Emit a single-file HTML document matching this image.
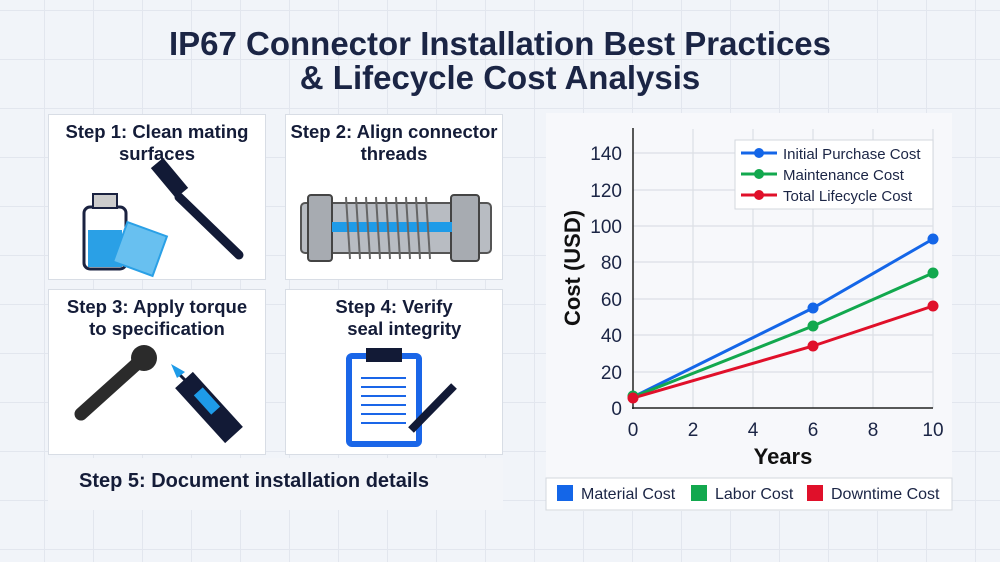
<!DOCTYPE html>
<html><head><meta charset="utf-8"><style>
body{margin:0;width:1000px;height:562px;overflow:hidden;font-family:"Liberation Sans",sans-serif;
background-color:#f1f4f9;
background-image:linear-gradient(#e2e6ee 1px,transparent 1px),linear-gradient(90deg,#e2e6ee 1px,transparent 1px);
background-size:49px 49px;background-position:-5px 10px;position:relative}
.t{position:absolute;left:0;width:1000px;text-align:center;font-weight:bold;font-size:33px;color:#1b2545;line-height:34px}
.p{position:absolute;background:#fff;border:1px solid #d8dde5;box-sizing:border-box}
.p .h{position:absolute;left:0;right:0;top:6px;text-align:center;font-weight:bold;font-size:18.5px;line-height:22px;color:#141c38}
</style></head><body>
<div class="t" style="top:27px">IP67 Connector Installation Best Practices</div>
<div class="t" style="top:61px">&amp; Lifecycle Cost Analysis</div>

<div class="p" style="left:48px;top:114px;width:218px;height:166px"><div class="h">Step 1: Clean mating<br>surfaces</div>
<svg width="218" height="166" style="position:absolute;left:0;top:0">
<rect x="35" y="90" width="0" height="0"/>
<rect x="35" y="92" width="42" height="62" rx="6" fill="#fff" stroke="#1a2240" stroke-width="3"/>
<rect x="44" y="79" width="24" height="14" fill="#ccc" stroke="#1a2240" stroke-width="2"/>
<rect x="39" y="115" width="34" height="37" fill="#2aa0e6"/>
<rect x="70" y="113" width="42" height="42" fill="#68c0f0" stroke="#2aa0e6" stroke-width="2" transform="rotate(20 91 134)"/>
<line x1="130" y1="82" x2="190" y2="140" stroke="#121a36" stroke-width="9" stroke-linecap="round"/>
<line x1="108" y1="48" x2="133" y2="78" stroke="#121a36" stroke-width="16"/>
</svg></div>

<div class="p" style="left:285px;top:114px;width:218px;height:166px"><div class="h">Step 2: Align connector<br>threads</div>
<svg width="218" height="166" style="position:absolute;left:0;top:0">
<rect x="15" y="88" width="190" height="50" rx="4" fill="#b8bcc2" stroke="#555" stroke-width="2"/>
<rect x="22" y="80" width="24" height="66" rx="3" fill="#a7abb1" stroke="#444" stroke-width="2"/>
<rect x="165" y="80" width="28" height="66" rx="3" fill="#a7abb1" stroke="#444" stroke-width="2"/>
<rect x="46" y="107" width="120" height="10" fill="#1e9be8"/>
<g stroke="#666" stroke-width="2"><line x1="60" y1="82" x2="64" y2="144"/><line x1="70" y1="82" x2="74" y2="144"/><line x1="80" y1="82" x2="84" y2="144"/><line x1="90" y1="82" x2="94" y2="144"/><line x1="100" y1="82" x2="104" y2="144"/><line x1="110" y1="82" x2="114" y2="144"/><line x1="120" y1="82" x2="124" y2="144"/><line x1="130" y1="82" x2="134" y2="144"/><line x1="140" y1="82" x2="144" y2="144"/></g>
</svg></div>

<div class="p" style="left:48px;top:289px;width:218px;height:166px"><div class="h">Step 3: Apply torque<br>to specification</div>
<svg width="218" height="166" style="position:absolute;left:0;top:0">
<line x1="32" y1="124" x2="92" y2="70" stroke="#2b2b2b" stroke-width="13" stroke-linecap="round"/>
<circle cx="95" cy="68" r="13" fill="#2b2b2b"/>
<line x1="135" y1="90" x2="185" y2="145" stroke="#121a36" stroke-width="24"/>
<rect x="152" y="98" width="12" height="26" fill="#1e9be8" transform="rotate(-42 158 111)"/>
<line x1="128" y1="82" x2="140" y2="94" stroke="#121a36" stroke-width="3"/>
<polygon points="122,74 136,82 128,88" fill="#1e9be8"/>
</svg></div>

<div class="p" style="left:285px;top:289px;width:218px;height:166px"><div class="h">Step 4: Verify<br>&nbsp;&nbsp;&nbsp;&nbsp;seal integrity</div>
<svg width="218" height="166" style="position:absolute;left:0;top:0">
<rect x="63" y="66" width="70" height="88" rx="3" fill="#fff" stroke="#1a66e8" stroke-width="6"/>
<rect x="80" y="58" width="36" height="14" fill="#121a36"/>
<g stroke="#1a66e8" stroke-width="2"><line x1="75" y1="88" x2="120" y2="88"/><line x1="75" y1="97" x2="120" y2="97"/><line x1="75" y1="106" x2="120" y2="106"/><line x1="75" y1="115" x2="120" y2="115"/><line x1="75" y1="124" x2="120" y2="124"/><line x1="75" y1="133" x2="120" y2="133"/></g>
<line x1="125" y1="140" x2="168" y2="96" stroke="#121a36" stroke-width="8"/>
</svg></div>

<div class="p" style="left:48px;top:458px;width:455px;height:52px;background:#f3f5f9;border:none">
<div style="position:absolute;left:31px;top:12px;font-weight:bold;font-size:20px;color:#141c38">Step 5: Document installation details</div></div>

<div class="p" style="left:546px;top:113px;width:406px;height:398px;background:#f7f8fb;border:none"></div>
<svg width="1000" height="562" style="position:absolute;left:0;top:0">
<g stroke="#dcdfe5" stroke-width="1.2">
<line x1="693" y1="129" x2="693" y2="408"/><line x1="753" y1="129" x2="753" y2="408"/><line x1="813" y1="129" x2="813" y2="408"/><line x1="873" y1="129" x2="873" y2="408"/><line x1="933" y1="129" x2="933" y2="408"/>
<line x1="633" y1="372" x2="933" y2="372"/><line x1="633" y1="335" x2="933" y2="335"/><line x1="633" y1="299" x2="933" y2="299"/><line x1="633" y1="262" x2="933" y2="262"/><line x1="633" y1="226" x2="933" y2="226"/><line x1="633" y1="190" x2="933" y2="190"/><line x1="633" y1="153" x2="933" y2="153"/>
</g>
<line x1="633" y1="128" x2="633" y2="409" stroke="#222" stroke-width="1.5"/>
<line x1="632" y1="408" x2="933" y2="408" stroke="#222" stroke-width="1.5"/>
<g font-size="19" fill="#1b2545" text-anchor="end">
<text x="622" y="415">0</text><text x="622" y="379">20</text><text x="622" y="342">40</text><text x="622" y="306">60</text><text x="622" y="269">80</text><text x="622" y="233">100</text><text x="622" y="197">120</text><text x="622" y="160">140</text></g>
<g font-size="19" fill="#1b2545" text-anchor="middle">
<text x="633" y="436">0</text><text x="693" y="436">2</text><text x="753" y="436">4</text><text x="813" y="436">6</text><text x="873" y="436">8</text><text x="933" y="436">10</text></g>
<text x="783" y="464" font-size="22" font-weight="bold" text-anchor="middle" fill="#111">Years</text>
<text transform="translate(580 268) rotate(-90)" font-size="22" font-weight="bold" text-anchor="middle" fill="#111">Cost (USD)</text>
<polyline points="633,397 813,308 933,239" fill="none" stroke="#1466e8" stroke-width="3"/>
<polyline points="633,397 813,326 933,273" fill="none" stroke="#12a84e" stroke-width="3"/>
<polyline points="633,398 813,346 933,306" fill="none" stroke="#e0102a" stroke-width="3"/>
<g fill="#1466e8"><circle cx="813" cy="308" r="5.5"/><circle cx="933" cy="239" r="5.5"/></g>
<g fill="#12a84e"><circle cx="633" cy="396" r="5.5"/><circle cx="813" cy="326" r="5.5"/><circle cx="933" cy="273" r="5.5"/></g>
<g fill="#e0102a"><circle cx="633" cy="398" r="5.5"/><circle cx="813" cy="346" r="5.5"/><circle cx="933" cy="306" r="5.5"/></g>
<rect x="735" y="140" width="198" height="69" fill="#fff" stroke="#d3d7de"/>
<g stroke-width="3"><line x1="741" y1="153" x2="777" y2="153" stroke="#1466e8"/><line x1="741" y1="174" x2="777" y2="174" stroke="#12a84e"/><line x1="741" y1="195" x2="777" y2="195" stroke="#e0102a"/></g>
<circle cx="759" cy="153" r="5" fill="#1466e8"/><circle cx="759" cy="174" r="5" fill="#12a84e"/><circle cx="759" cy="195" r="5" fill="#e0102a"/>
<g font-size="15" fill="#1b2545"><text x="783" y="159">Initial Purchase Cost</text><text x="783" y="180">Maintenance Cost</text><text x="783" y="201">Total Lifecycle Cost</text></g>
<rect x="546" y="478" width="406" height="32" fill="#fff" stroke="#d3d7de"/>
<rect x="557" y="485" width="16" height="16" fill="#1466e8"/><rect x="691" y="485" width="16" height="16" fill="#12a84e"/><rect x="807" y="485" width="16" height="16" fill="#e0102a"/>
<g font-size="16" fill="#1b2545"><text x="581" y="499">Material Cost</text><text x="715" y="499">Labor Cost</text><text x="831" y="499">Downtime Cost</text></g>
</svg>
</body></html>
